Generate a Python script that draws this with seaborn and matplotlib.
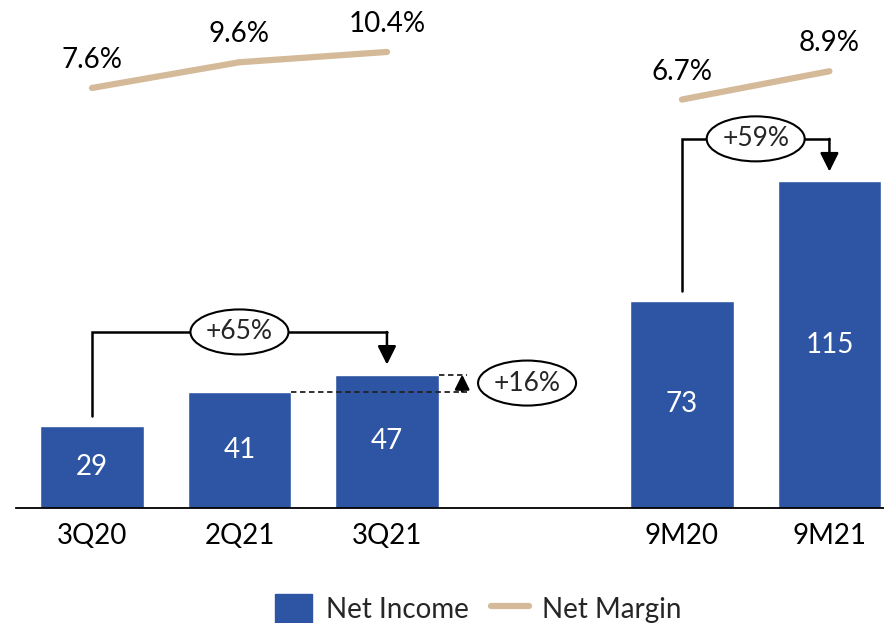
import numpy as np
import pandas as pd
import matplotlib
matplotlib.use('agg')
import matplotlib.pyplot as plt
import matplotlib.transforms as mtransforms
from matplotlib.patches import Patch, Ellipse
from matplotlib.lines import Line2D
import seaborn as sns

# data
periods = ["3Q20", "2Q21", "3Q21", "9M20", "9M21"]
net_income = [29, 41, 47, 73, 115]
net_margin = [7.6, 9.6, 10.4, 6.7, 8.9]
groups = ["Q", "Q", "Q", "9M", "9M"]

# order with an empty slot to get the gap between the quarters and 9M
order = periods[:3] + [" "] + periods[3:]

blue = "#2E55A3"
tan = "#D4BA99"

df = pd.DataFrame({"period": periods, "income": net_income,
                   "margin": net_margin, "group": groups})
df["pos"] = [order.index(p) for p in df["period"]]

sns.set_theme(style="white")
plt.rcParams['font.family'] = ['Lato', 'DejaVu Sans']
FS = 20

fig = plt.figure(figsize=(8.84, 6.23), dpi=100)
ax = fig.add_axes([16 / 884, 115 / 623, 1 - 16 / 884, 508 / 623])

sns.barplot(data=df, x="period", y="income", order=order, color=blue,
            width=0.7, saturation=1, ax=ax)
ax.bar_label(ax.containers[0], label_type="center", color="white", fontsize=FS)

ax.set_xlim(-0.515, 5.37)
ax.set_ylim(0, 178.9)
ax.set_xlabel("")
ax.set_ylabel("")
ax.set_yticks([])
ax.tick_params(axis="x", length=0, pad=11, labelsize=FS, labelcolor="black")
for s in ["top", "right", "left"]:
    ax.spines[s].set_visible(False)
ax.spines["bottom"].set_color("black")
ax.spines["bottom"].set_linewidth(1.3)

# net margin on a second axis
ax2 = ax.twinx()
for g in ["Q", "9M"]:
    sub = df[df["group"] == g]
    sns.lineplot(data=sub, x="pos", y="margin", ax=ax2, color=tan,
                 linewidth=4.5, legend=False)
for _, r in df.iterrows():
    ax2.annotate(f"{r['margin']:.1f}%", (r["pos"], r["margin"]),
                 xytext=(0, 20), textcoords="offset points",
                 ha="center", va="center", fontsize=FS, color="black")
ax2.set_ylim(-25.06, 14.44)
ax2.set_yticks([])
ax2.set_ylabel("")
for s in ax2.spines.values():
    s.set_visible(False)


def oval_label(x, y, label):
    # fixed size oval (in inches) centred on a data point
    tr = fig.dpi_scale_trans + mtransforms.ScaledTranslation(x, y, ax.transData)
    ax.add_patch(Ellipse((0, 0), 0.98, 0.45, transform=tr, fc="white",
                         ec="black", lw=1.5, zorder=5, clip_on=False))
    ax.text(x, y, label, ha="center", va="center", fontsize=FS - 1, zorder=6)


def bracket(x0, x1, v0, v1, label, rise=15, gap=3.5):
    top = max(v0, v1) + rise
    ax.plot([x0, x0, x1], [v0 + gap, top, top], color="black", lw=1.8,
            solid_joinstyle="miter", zorder=4)
    ax.annotate("", xy=(x1, v1 + gap), xytext=(x1, top),
                arrowprops=dict(arrowstyle="-|>", color="black", lw=1.8,
                                mutation_scale=28, shrinkA=0, shrinkB=0),
                zorder=4)
    oval_label((x0 + x1) / 2, top, label)


pos = dict(zip(df["period"], df["pos"]))
inc = dict(zip(df["period"], df["income"]))
bracket(pos["3Q20"], pos["3Q21"], inc["3Q20"], inc["3Q21"], "+65%")
bracket(pos["9M20"], pos["9M21"], inc["9M20"], inc["9M21"], "+59%")

# +16% quarter on quarter marker
xe = pos["3Q21"] + 0.54
ax.plot([pos["2Q21"] + 0.35, xe], [inc["2Q21"]] * 2, color="#222222",
        lw=1.3, ls=(0, (3, 2)), zorder=4)
ax.plot([pos["3Q21"] + 0.35, xe], [inc["3Q21"]] * 2, color="#222222",
        lw=1.3, ls=(0, (3, 2)), zorder=4)
ax.annotate("", xy=(xe - 0.03, inc["3Q21"]), xytext=(xe - 0.03, inc["2Q21"]),
            arrowprops=dict(arrowstyle="-|>", color="black", lw=1.8,
                            mutation_scale=22, shrinkA=0, shrinkB=0), zorder=4)
oval_label(pos["3Q21"] + 0.95, (inc["2Q21"] + inc["3Q21"]) / 2, "+16%")

handles = [Patch(facecolor=blue, edgecolor=blue),
           Line2D([0], [0], color=tan, lw=4.5)]
fig.legend(handles, ["Net Income", "Net Margin"], loc="center",
           bbox_to_anchor=(0.541, 14 / 623), ncol=2, frameon=False,
           fontsize=FS, handlelength=1.35, handleheight=1.3,
           handletextpad=0.5, columnspacing=0.8)

fig.savefig("out.png", dpi=100)
